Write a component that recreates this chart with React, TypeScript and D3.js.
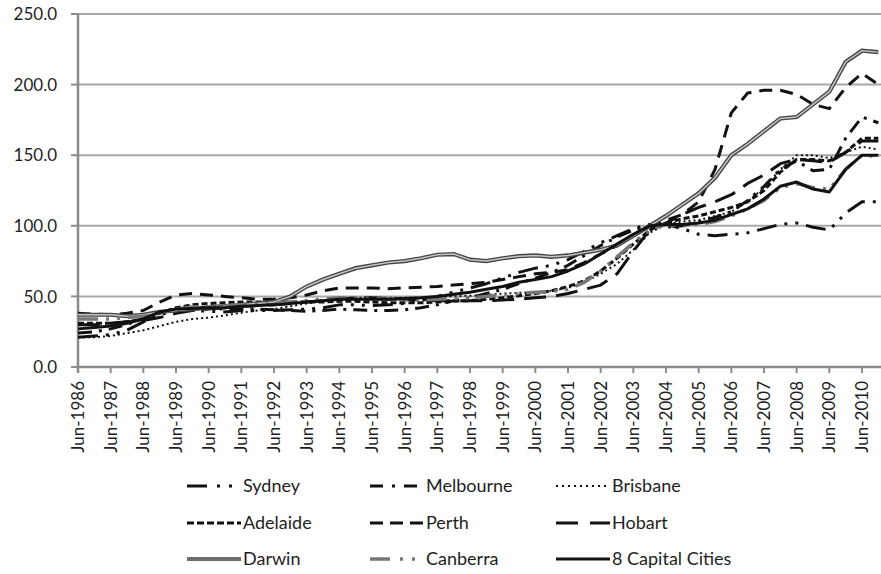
import React from "react";
import * as d3 from "d3";

// half-yearly points, Jun-1986 .. Dec-2010 (index 2003-04 = 100)
const years = d3.range(1986, 2011);
const periods = years.flatMap((yr) => ["Jun-" + yr, "Dec-" + yr]);

const tickLabels = [
  "Jun-1986", "Jun-1987", "Jun-1988", "Jun-1989", "Jun-1990", "Jun-1991", "Jun-1992",
  "Jun-1993", "Jun-1994", "Jun-1995", "Jun-1996", "Jun-1997", "Jun-1998", "Jun-1999",
  "Jun-2000", "Jun-2001", "Jun-2002", "Jun-2003", "Jun-2004", "Jun-2005", "Jun-2006",
  "Jun-2007", "Jun-2008", "Jun-2009", "Jun-2010",
];
const yTicks = [0, 50, 100, 150, 200, 250];

const sydney = [
  21, 22, 23, 26, 32, 37, 40, 40, 39.5, 39, 40, 40, 40, 40.5, 41, 42, 44, 44, 43.5, 44,
  45, 47, 50, 53, 56, 59, 63, 67, 70, 72, 76, 82, 88, 93, 98, 101, 101, 98, 94, 93,
  94, 95, 98, 101, 102, 99, 97, 109, 117, 117,
];
const melbourne = [
  24, 25, 27, 30, 35, 39, 41, 42, 41.5, 41, 41, 41, 40.5, 40, 39.5, 40, 41, 40.5, 40, 40,
  40.5, 42, 44, 47, 49, 52, 55, 59, 63, 67, 72, 79, 86, 92, 97, 100, 99, 100, 103, 106,
  110, 118, 128, 140, 146, 139, 140, 162, 177, 173,
];
const brisbane = [
  21, 21, 22, 24, 26, 29, 32, 34, 35, 36.5, 38.5, 40, 41, 43, 45, 47, 49, 49, 49, 49,
  49, 49, 49.5, 50, 50.5, 51, 52, 52.5, 53, 54, 56, 60, 66, 73, 83, 95, 101, 103, 104, 107,
  110, 117, 127, 140, 150, 150, 148, 152, 156, 154,
];
const adelaide = [
  31, 31, 31, 32, 34, 38, 42, 44, 45, 45.5, 46, 46, 46, 46, 46, 46, 46.5, 46.5, 46, 45.5,
  45.5, 45.5, 46, 46.5, 47, 48, 49, 50.5, 52, 54, 57, 61, 68, 77, 87, 97, 102, 105, 107, 110,
  113, 117, 125, 138, 147, 147, 146, 152, 162, 162,
];
const perth = [
  38, 37.5, 37, 38, 40, 46, 51, 52, 51, 50, 49, 48, 48, 49, 51, 54, 56, 56, 56, 55.5,
  56, 56.5, 57, 58, 59, 60, 62, 64, 66, 67, 69, 74, 80, 86, 93, 99, 104, 108, 117, 140,
  180, 194, 196, 196, 193, 186, 183, 198, 208, 200,
];
const hobart = [
  30, 30, 31, 32, 33, 35, 38, 40, 41, 42, 43, 43.5, 44, 45, 46, 47, 48, 49, 49, 48.5,
  48, 47.5, 47, 47, 47, 47, 47.5, 48, 49, 50, 52, 55, 58, 66, 82, 97, 102, 108, 113, 117,
  122, 130, 136, 144, 147, 146, 145, 152, 160, 160,
];
const darwin = [
  37, 37, 37, 36, 37, 39, 40, 41, 42, 43, 44, 45, 46, 50, 57, 62, 66, 70, 72, 74,
  75, 77, 79.5, 80, 76, 75, 77, 78.5, 79, 78, 79, 81, 83, 86, 93, 100, 107, 115, 123, 134,
  150, 158, 167, 176, 177, 186, 195, 216, 224, 223,
];
const canberra = [
  34, 34, 34, 35, 36, 38, 41, 42.5, 43, 43.5, 44, 44.5, 45, 46, 47, 48, 49, 49, 48.5, 48,
  47.5, 47.5, 48, 48.5, 49, 50, 51, 52, 53, 53.5, 55, 60, 68, 78, 88, 97, 101, 100, 101, 103,
  107, 112, 118, 127, 130, 127, 126, 140, 150, 149,
];
const capitals = [
  27, 28, 29, 31, 34, 39, 41, 41.5, 42, 42, 43, 43.5, 44, 45, 46, 47, 48, 48, 48, 48,
  48.5, 49, 50, 51.5, 53, 55, 57, 60, 62, 64, 68, 73, 80, 87, 94, 100, 101, 101, 102, 104,
  108, 112, 119, 128, 131, 126, 124, 140, 150, 150,
];

type Series = {
  name: string;
  values: number[];
  color: string;
  width: number;
  dash: string;
  legendDash: string;
  double?: boolean;
};

const series: Series[] = [
  { name: "Sydney", values: sydney, color: "#111", width: 3, dash: "20 8 3 8 3 8", legendDash: "20 10 3 9 3 9" },
  { name: "Melbourne", values: melbourne, color: "#111", width: 3, dash: "14 7 3 7", legendDash: "13 9 3 9" },
  { name: "Brisbane", values: brisbane, color: "#111", width: 2, dash: "2 3", legendDash: "2 4" },
  { name: "Adelaide", values: adelaide, color: "#111", width: 3, dash: "6 3", legendDash: "7 3" },
  { name: "Perth", values: perth, color: "#111", width: 3, dash: "13 8", legendDash: "13 7" },
  { name: "Hobart", values: hobart, color: "#111", width: 3, dash: "22 10", legendDash: "22 12" },
  { name: "Darwin", values: darwin, color: "#6e6e6e", width: 4, dash: "none", legendDash: "none", double: true },
  { name: "Canberra", values: canberra, color: "#777", width: 3.5, dash: "20 8 3 8 3 8", legendDash: "20 10 3 9 3 9" },
  { name: "8 Capital Cities", values: capitals, color: "#111", width: 3, dash: "none", legendDash: "none" },
];

const W = 881;
const H = 574;
const left = 78;
const top = 14;
const bottom = 367;
const right = 881;
const font = "Lato, 'Open Sans', sans-serif";
const textColor = "#1e1e1e";

export default function App() {
  // quarter index: Jun-1986 = 0, Jun-2010 = 96; periods are every 2 quarters
  const x = d3.scaleLinear().domain([0, 96]).range([left, 862]);
  const y = d3.scaleLinear().domain([0, 250]).range([bottom, top]);
  const line = d3
    .line<number>()
    .x((_, i) => x(periods.indexOf(periods[i]) * 2))
    .y((d) => y(d));

  const legendCols = [187, 370, 556];
  const legendRows = [486, 523, 559];

  return (
    <div style={{ position: "absolute", left: 0, top: 0 }}>
      <svg width={W} height={H} style={{ display: "block", background: "#fff" }}>
        {/* gridlines */}
        {yTicks.slice(1).map((t) => (
          <line key={t} x1={left} x2={right} y1={y(t)} y2={y(t)} stroke="#a8a8a8" strokeWidth={2} />
        ))}
        {/* y axis */}
        <line x1={left} x2={left} y1={top - 1} y2={bottom + 6} stroke="#8c8c8c" strokeWidth={2.5} />
        {yTicks.map((t) => (
          <g key={t}>
            <line x1={left - 7} x2={left} y1={y(t)} y2={y(t)} stroke="#8c8c8c" strokeWidth={2} />
            <text
              x={57}
              y={y(t)}
              dy="0.36em"
              textAnchor="end"
              fontFamily={font}
              fontSize={17}
              fill={textColor}
            >
              {t.toFixed(1)}
            </text>
          </g>
        ))}
        {/* x axis */}
        <line x1={left} x2={right} y1={bottom} y2={bottom} stroke="#8c8c8c" strokeWidth={2.5} />
        {tickLabels.map((lab, i) => (
          <g key={lab}>
            <line x1={x(i * 4)} x2={x(i * 4)} y1={bottom} y2={bottom + 6} stroke="#8c8c8c" strokeWidth={2} />
            <text
              transform={`translate(${x(i * 4)},${bottom + 14}) rotate(-90)`}
              dy="0.36em"
              textAnchor="end"
              fontFamily={font}
              fontSize={17}
              fill={textColor}
            >
              {lab}
            </text>
          </g>
        ))}
        {/* series */}
        {series.map((s) =>
          s.double ? (
            <g key={s.name}>
              <path d={line(s.values) ?? ""} fill="none" stroke="#454545" strokeWidth={4.2} />
              <path d={line(s.values) ?? ""} fill="none" stroke="#c4c4c4" strokeWidth={1.5} />
            </g>
          ) : (
            <path
              key={s.name}
              d={line(s.values) ?? ""}
              fill="none"
              stroke={s.color}
              strokeWidth={s.width}
              strokeDasharray={s.dash}
              strokeLinejoin="round"
            />
          )
        )}
        {/* legend */}
        {series.map((s, i) => {
          const lx = legendCols[i % 3];
          const ly = legendRows[Math.floor(i / 3)];
          return (
            <g key={"lg" + s.name}>
              <line
                x1={lx}
                x2={lx + 54}
                y1={ly}
                y2={ly}
                stroke={s.color}
                strokeWidth={s.double ? 4 : s.width}
                strokeDasharray={s.legendDash}
              />
              <text
                x={lx + 56}
                y={ly}
                dy="0.36em"
                fontFamily={font}
                fontSize={18}
                fill={textColor}
              >
                {s.name}
              </text>
            </g>
          );
        })}
      </svg>
    </div>
  );
}
